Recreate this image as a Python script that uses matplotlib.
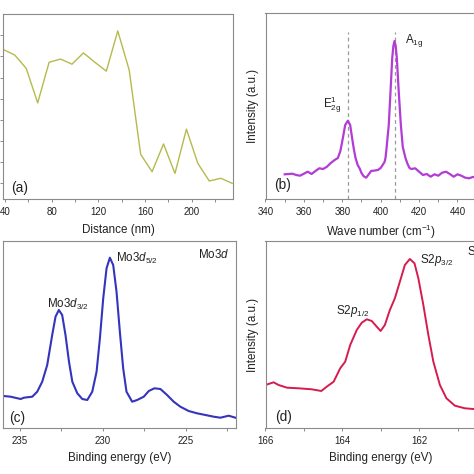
import matplotlib
matplotlib.use('Agg')
import matplotlib.pyplot as plt
from matplotlib.ticker import MultipleLocator

plt.rcParams['font.family'] = ['Liberation Sans', 'DejaVu Sans']
plt.rcParams['mathtext.fontset'] = 'custom'
plt.rcParams['mathtext.rm'] = 'Liberation Sans'
plt.rcParams['mathtext.it'] = 'Liberation Sans:italic'

# (a) height profile
distance = [38.3, 38.6, 48.4, 58.2, 68.0, 77.8, 87.6, 97.4, 107.2, 117.0, 126.8, 136.6,
            146.4, 156.2, 166.0, 175.8, 185.6, 195.4, 205.2, 215.0, 224.8, 234.6]
height = [8.08, 7.32, 7.06, 6.43, 4.80, 6.72, 6.87, 6.63, 7.16, 6.72, 6.30, 8.20,
          6.35, 2.37, 1.55, 2.86, 1.47, 3.56, 1.94, 1.11, 1.24, 1.00]

# (b) Raman spectrum
raman_shift = [350, 352, 354, 356, 358, 360, 362, 364, 366, 368, 370, 372, 374, 376, 377.7,
               379, 380.3, 381.5, 382.9, 384.1, 385.1, 386, 386.9, 388, 389, 390, 391, 392.4,
               393.5, 395, 397, 398.5, 400, 401, 402, 402.5, 403, 403.5, 404.2, 405.1, 406,
               406.6, 407.2, 407.8, 408.4, 409.4, 410.5, 411.5, 412.9, 414, 415, 416, 418, 420,
               422, 424, 426, 428, 430, 432, 434, 436, 438, 440, 442, 444, 446, 448, 452]
raman_int = [24.7, 25, 25.3, 24, 23.3, 25.3, 27.3, 25, 28, 30.7, 30, 32.3, 36, 39, 41,
             48, 61, 74, 78.3, 74, 61, 50, 41, 34, 30.7, 26, 23, 21.3,
             24, 28, 28.5, 29, 31, 34, 37, 41, 50, 60, 74, 107, 141,
             153, 158, 153, 141, 107, 74, 52, 41, 35, 31, 30, 30.7, 27.3,
             24, 25, 22.3, 24.7, 23.3, 26.3, 27.3, 25, 22.3, 24.7, 23.3, 21.3, 20.7, 22, 22]
raman_modes = [383.0, 407.3]

# (c) Mo 3d XPS
mo_be = [236.14, 235.54, 234.94, 234.74, 234.24, 233.94, 233.64, 233.34, 233.04, 232.84,
         232.64, 232.44, 232.24, 232.03, 231.83, 231.53, 231.23, 230.93, 230.63, 230.37,
         230.17, 229.97, 229.77, 229.57, 229.37, 229.17, 228.97, 228.77, 228.57, 228.23,
         227.93, 227.53, 227.23, 226.89, 226.53, 226.13, 225.73, 225.33, 224.83, 224.33,
         223.82, 223.32, 222.92, 222.42, 222.02]
mo_int = [32.3, 31.3, 29, 30.3, 31.3, 36.3, 46.3, 63, 93, 111.3,
          118, 113, 93, 66.3, 46.3, 34.7, 29, 28, 36.3, 56.3,
          89.7, 129.7, 159.7, 170.3, 163, 136.3, 96.3, 59.7, 36.3, 26.3,
          28, 31.3, 37, 39.7, 39, 33, 26.3, 21.3, 17, 14.7,
          13, 11.3, 10.3, 12.3, 10.3]

# (d) S 2p XPS
s_be = [166.0, 165.79, 165.66, 165.44, 165.14, 164.80, 164.55, 164.41, 164.23, 164.06,
        163.93, 163.80, 163.63, 163.50, 163.37, 163.24, 163.11, 163.01, 162.90, 162.77,
        162.64, 162.51, 162.38, 162.25, 162.13, 162.03, 161.90, 161.77, 161.64, 161.47,
        161.30, 161.08, 160.82, 160.6, 160.0]
s_int = [43, 45.7, 43, 40.3, 39.7, 38.7, 37, 41.3, 46.3, 59.7,
         66.3, 83, 98, 105.3, 108.7, 107, 101.3, 97, 103, 118,
         129.7, 146.3, 163, 169, 164.7, 149.7, 123, 93, 66.3, 43,
         29.7, 22.3, 19.7, 19, 18.5]

W = 474.0
fig = plt.figure(figsize=(4.74, 4.74), dpi=100)


def px_axes(left, top, width, height):
    return fig.add_axes([left / W, (W - top - height) / W, width / W, height / W])


def style(ax):
    for s in ax.spines.values():
        s.set_color('#8a8a8a')
        s.set_linewidth(0.8)
    ax.tick_params(which='both', direction='out', length=2.3, width=0.7, color='#8a8a8a',
                   labelsize=7, pad=3.3, labelcolor='#222222')


LBL = 8.4
TXT = '#222222'

# (a)
ax1 = px_axes(3, 14, 230, 185)
ax1.plot(distance, height, color='#b6ba4c', lw=1.0)
ax1.set_xlim(38.3, 235.3)
ax1.set_ylim(0.26, 9.0)
ax1.set_xticks([40, 80, 120, 160, 200])
ax1.xaxis.set_minor_locator(MultipleLocator(20))
ax1.set_yticks([1, 2, 3, 4, 5, 6, 7, 8])
style(ax1)
ax1.tick_params(axis='y', labelleft=False)
ax1.set_xlabel('Distance (nm)', fontsize=LBL, labelpad=5.5, color=TXT)
ax1.text(52.9, 0.78, '(a)', fontsize=9.8, ha='center', va='center', color=TXT)

# (b)
ax2 = px_axes(265.5, 13, 230.4, 186)
ax2.vlines(raman_modes, 0, 167, colors='#9a9a9a', linestyles=(0, (3, 2.5)), lw=0.9)
ax2.plot(raman_shift, raman_int, color='#b23cd6', lw=1.6)
ax2.set_xlim(340, 460)
ax2.set_ylim(0, 186)
ax2.set_xticks([340, 360, 380, 400, 420, 440])
ax2.xaxis.set_minor_locator(MultipleLocator(10))
ax2.set_yticks([])
style(ax2)
ax2.set_xlabel('Wave number (cm$^{-1}$)', fontsize=LBL, labelpad=4.5, color=TXT)
ax2.set_ylabel('Intensity (a.u.)', fontsize=LBL, labelpad=4.5, color=TXT)
ax2.text(349.1, 14, '(b)', fontsize=9.8, ha='center', va='center', color=TXT)
ax2.text(379.8, 94, r'E$_{\mathrm{2g}}^{\mathrm{1}}$', fontsize=LBL, ha='right', va='center',
         color=TXT)
ax2.text(412.7, 158, r'A$_{\mathrm{1g}}$', fontsize=LBL, ha='left', va='center', color=TXT)

# (c)
ax3 = px_axes(3, 241, 232.7, 187)
ax3.plot(mo_be, mo_int, color='#3434bc', lw=1.5)
ax3.set_xlim(236, 222)
ax3.set_ylim(0, 187)
ax3.set_xticks([235, 230, 225])
ax3.xaxis.set_minor_locator(MultipleLocator(2.5))
ax3.set_yticks([])
style(ax3)
ax3.set_xlabel('Binding energy (eV)', fontsize=LBL, labelpad=4.5, color=TXT)
ax3.text(235.13, 10, '(c)', fontsize=9.8, ha='center', va='center', color=TXT)
ax3.text(223.32, 173, r'Mo3$\mathit{d}$', fontsize=LBL, ha='center', va='center', color=TXT)
ax3.text(229.19, 170, r'Mo3$\mathit{d}_{\mathit{5/2}}$', fontsize=LBL, ha='left', va='center',
         color=TXT)
ax3.text(232.11, 124, r'Mo3$\mathit{d}_{\mathit{3/2}}$', fontsize=LBL, ha='center', va='center',
         color=TXT)

# (d)
ax4 = px_axes(265.5, 241, 231, 187)
ax4.plot(s_be, s_int, color='#d61c4e', lw=1.4)
ax4.set_xlim(166, 160)
ax4.set_ylim(0, 187)
ax4.set_xticks([166, 164, 162])
ax4.xaxis.set_minor_locator(MultipleLocator(1))
ax4.set_yticks([])
style(ax4)
ax4.set_xlabel('Binding energy (eV)', fontsize=LBL, labelpad=4.5, color=TXT)
ax4.set_ylabel('Intensity (a.u.)', fontsize=LBL, labelpad=4.5, color=TXT)
ax4.text(165.53, 11, '(d)', fontsize=9.8, ha='center', va='center', color=TXT)
ax4.text(161.99, 168, r'S2$\mathit{p}_{\mathit{3/2}}$', fontsize=LBL, ha='left', va='center',
         color=TXT)
ax4.text(163.73, 117, r'S2$\mathit{p}_{\mathit{1/2}}$', fontsize=LBL, ha='center', va='center',
         color=TXT)
ax4.text(160.76, 176, r'S2$\mathit{p}$', fontsize=LBL, ha='left', va='center', color=TXT,
         clip_on=False)

fig.savefig('out.png', dpi=100)
